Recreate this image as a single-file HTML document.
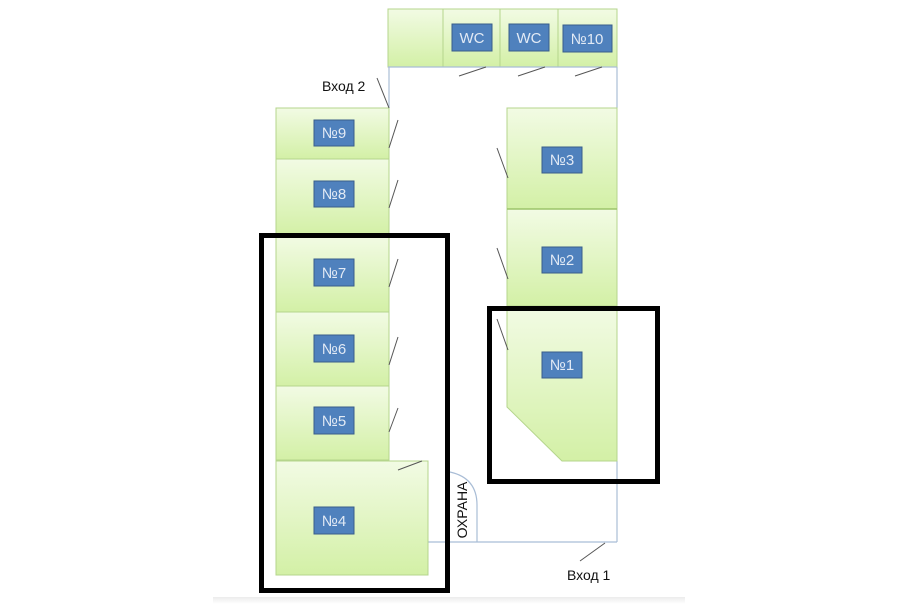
<!DOCTYPE html>
<html><head><meta charset="utf-8"><style>
html,body{margin:0;padding:0;background:#fff;}
svg{display:block;}
text{font-family:"Liberation Sans","DejaVu Sans",sans-serif;}
</style></head><body>
<svg width="900" height="604" viewBox="0 0 900 604" xmlns="http://www.w3.org/2000/svg">
<defs>
<linearGradient id="g" x1="0" y1="0" x2="0" y2="1">
<stop offset="0" stop-color="#f2fbe4"/>
<stop offset="1" stop-color="#d3f0a6"/>
</linearGradient>
<linearGradient id="gb" x1="0" y1="0" x2="0" y2="1">
<stop offset="0" stop-color="#ececec"/>
<stop offset="1" stop-color="#ffffff"/>
</linearGradient>
</defs>
<rect width="900" height="604" fill="#fff"/>

<!-- corridor outline -->
<g stroke="#a9bdd6" stroke-width="1.2" fill="none">
<line x1="389" y1="67" x2="389" y2="108"/>
<line x1="617" y1="67" x2="617" y2="108"/>
<line x1="617" y1="461" x2="617" y2="542"/>
<line x1="428" y1="542" x2="617" y2="542"/>
<path d="M450 472 Q477 478 477 505 L477 542"/>
</g>

<!-- top row -->
<g stroke="#b5d58c" stroke-width="1" fill="url(#g)">
<rect x="388" y="9" width="55" height="58"/>
<rect x="443" y="9" width="57" height="58"/>
<rect x="500" y="9" width="58" height="58"/>
<rect x="558" y="9" width="59" height="58"/>
</g>
<line x1="388" y1="67" x2="617" y2="67" stroke="#a9bdd6" stroke-width="1.2"/>

<!-- left column -->
<g stroke="#b5d58c" stroke-width="1" fill="url(#g)">
<rect x="276" y="108" width="113" height="51"/>
<rect x="276" y="159" width="113" height="76"/>
<rect x="276" y="236" width="113" height="76"/>
<rect x="276" y="312" width="113" height="74"/>
<rect x="276" y="386" width="113" height="74"/>
<rect x="276" y="461" width="152" height="114"/>
</g>

<!-- right column -->
<g stroke="#b5d58c" stroke-width="1" fill="url(#g)">
<rect x="507" y="108" width="110" height="101"/>
<rect x="507" y="209" width="110" height="97"/>
<path d="M507 306 L617 306 L617 461 L562 461 L507 407 Z"/>
</g>
<line x1="507" y1="209" x2="617" y2="209" stroke="#9cc46a" stroke-width="1.5"/>

<!-- door lines -->
<g stroke="#555" stroke-width="1" fill="none">
<line x1="459" y1="76" x2="486" y2="67"/>
<line x1="518" y1="76" x2="545" y2="67"/>
<line x1="575" y1="76" x2="602" y2="67"/>
<line x1="377" y1="78" x2="389" y2="108"/>
<line x1="389" y1="148" x2="398" y2="120"/>
<line x1="389" y1="208" x2="398" y2="180"/>
<line x1="389" y1="287" x2="398" y2="259"/>
<line x1="389" y1="365" x2="398" y2="337"/>
<line x1="389" y1="432" x2="398" y2="408"/>
<line x1="398" y1="470" x2="422" y2="461"/>
<line x1="497" y1="148" x2="508" y2="178"/>
<line x1="497" y1="248" x2="508" y2="279"/>
<line x1="497" y1="319" x2="508" y2="350"/>
<line x1="580" y1="561" x2="605" y2="543"/>
</g>

<!-- labels -->
<g fill="#4f81bd" stroke="#385d8a" stroke-width="1">
<rect x="452" y="24" width="40" height="27"/>
<rect x="509" y="24" width="40" height="27"/>
<rect x="563" y="25" width="49" height="27"/>
<rect x="314" y="120" width="40" height="26"/>
<rect x="314" y="181" width="40" height="26"/>
<rect x="314" y="259" width="40" height="27"/>
<rect x="314" y="335" width="40" height="27"/>
<rect x="314" y="407" width="40" height="27"/>
<rect x="314" y="507" width="40" height="27"/>
<rect x="542" y="147" width="40" height="26"/>
<rect x="542" y="247" width="40" height="26"/>
<rect x="542" y="352" width="40" height="26"/>
</g>
<g fill="#e2eaf5" font-size="15" text-anchor="middle">
<text x="472" y="43">WC</text>
<text x="529" y="43">WC</text>
<text x="587" y="44">№10</text>
<text x="334" y="138">№9</text>
<text x="334" y="199">№8</text>
<text x="334" y="278">№7</text>
<text x="334" y="354">№6</text>
<text x="334" y="426">№5</text>
<text x="334" y="526">№4</text>
<text x="562" y="165">№3</text>
<text x="562" y="265">№2</text>
<text x="562" y="370">№1</text>
</g>

<text x="322" y="91" font-size="14" fill="#111">Вход 2</text>
<text x="567" y="580" font-size="14" fill="#111">Вход 1</text>
<text transform="translate(467,510) rotate(-90)" font-size="14" fill="#111" text-anchor="middle">ОХРАНА</text>

<!-- black highlight rects -->
<g stroke="#000" stroke-width="5" fill="none">
<rect x="261.5" y="235.5" width="186" height="355"/>
<rect x="489.5" y="308.5" width="168" height="173"/>
</g>

<!-- bottom band -->
<rect x="213" y="597" width="472" height="7" fill="url(#gb)"/>
</svg>
</body></html>
